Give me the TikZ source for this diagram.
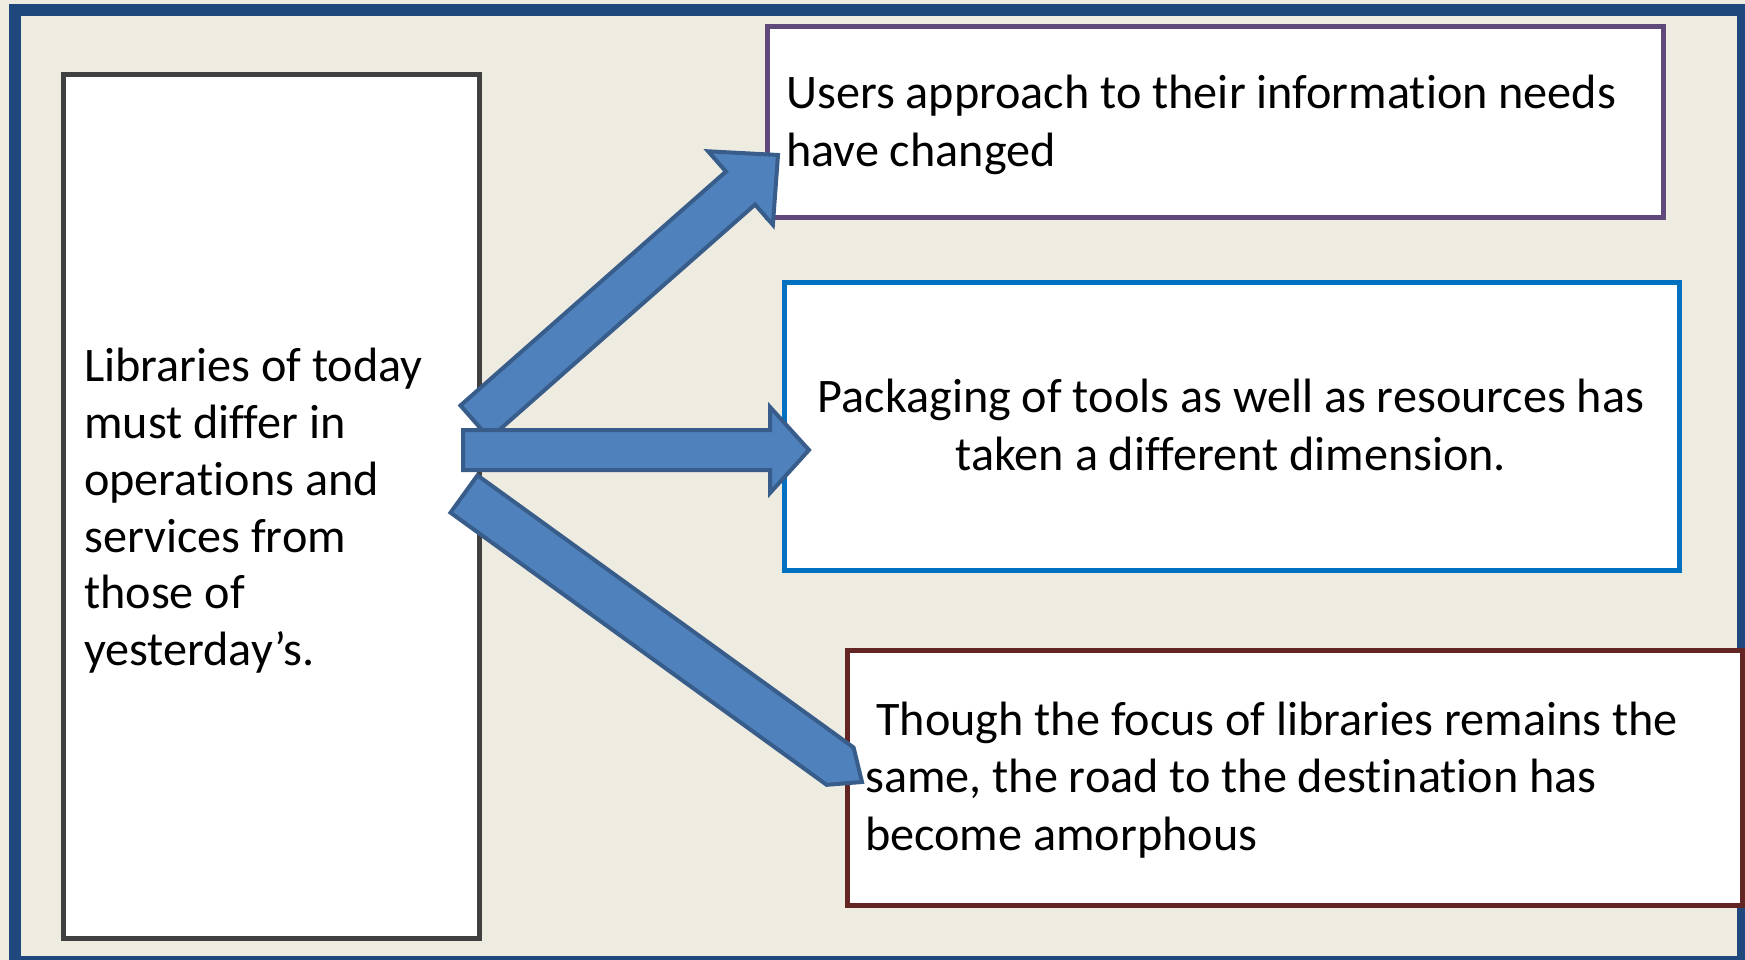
\documentclass[tikz,border=0pt]{standalone}
\usepackage{fontspec}
\setmainfont{Carlito}[Ligatures={NoCommon}]
\usetikzlibrary{calc}
\definecolor{bgtan}{HTML}{EEECE1}
\definecolor{framec}{HTML}{1F497D}
\definecolor{boxgray}{HTML}{404040}
\definecolor{boxpurple}{HTML}{5F497A}
\definecolor{boxblue}{HTML}{0070C0}
\definecolor{boxred}{HTML}{632523}
\definecolor{arrfill}{HTML}{4F81BD}
\definecolor{arrline}{HTML}{385D8A}
% block arrow: #1 tail, #2 tip, #3 half shaft width, #4 half head width, #5 head length
\newcommand{\blkarrow}[5]{%
  \path ($(#2)!#5!(#1)$) coordinate (hb);
  \draw[arrowshape] ($(#1)!#3!90:(#2)$) -- ($(hb)!#3!90:(#2)$) -- ($(hb)!#4!90:(#2)$)
    -- (#2) -- ($(hb)!#4!-90:(#2)$) -- ($(hb)!#3!-90:(#2)$) -- ($(#1)!#3!-90:(#2)$) -- cycle;
}
\newcommand{\firstline}{\rule{0pt}{40pt}}
\begin{document}
\begin{tikzpicture}[x=1pt,y=-1pt,
  panel/.style={draw, fill=white, line width=5pt, inner sep=0pt, line join=miter},
  txt/.style={inner sep=0pt, text=black},
  arrowshape/.style={fill=arrfill, draw=arrline, line width=4pt, line join=miter}]
  \useasboundingbox (0,0) rectangle (1745,960);
  \fill[bgtan] (0,0) rectangle (1745,960);
  \node (frame) [draw=framec, line width=12pt, inner sep=0pt, minimum width=1728pt, minimum height=952pt] at (879,486) {};

  % boxes
  \node (lbox) [panel, draw=boxgray, minimum width=416.5pt, minimum height=863.5pt] at (271.25,506.25) {};
  \node (tbox) [panel, draw=boxpurple, minimum width=896pt, minimum height=191.2pt] at (1215,122.4) {};
  \node (mbox) [panel, draw=boxblue, minimum width=895pt, minimum height=288pt] at (1231.5,426.5) {};
  \node (bbox) [panel, draw=boxred, minimum width=895pt, minimum height=255pt] at (1295,778) {};

  % texts
  \node (ltext) [txt, anchor=north west, align=left, font=\fontsize{48.2}{56.7}\selectfont] at (84,341.7)
    {\firstline Libraries of today\\must differ in\\operations and\\services from\\those of\\yesterday’s.};
  \node (ttext) [txt, anchor=north west, align=left, font=\fontsize{48.2}{58.3}\selectfont] at (786,68.3)
    {\firstline Users approach to their information needs\\have changed};
  \node (mtext) [txt, anchor=north, align=center, font=\fontsize{48.2}{58}\selectfont] at (1231,372.7)
    {\firstline Packaging of tools as well as resources has\\taken a different dimension.};
  \node (btext) [txt, anchor=north west, align=left, font=\fontsize{48.2}{57.5}\selectfont] at (865,695)
    {\firstline\hspace*{0.23em}Though the focus of libraries remains the\\same, the road to the destination has\\become amorphous};

  % arrow end points
  \coordinate (atail) at (475,422);
  \coordinate (atip) at (778,155);
  \coordinate (ctail) at (464,494);
  \coordinate (ctip) at (862,782);
  \coordinate (btail) at (463,450);
  \coordinate (btip) at (809,450);

  \blkarrow{atail}{atip}{22pt}{49pt}{50pt}
  \blkarrow{ctail}{ctip}{23pt}{23pt}{27pt}
  \blkarrow{btail}{btip}{20pt}{43pt}{39pt}
\end{tikzpicture}
\end{document}
